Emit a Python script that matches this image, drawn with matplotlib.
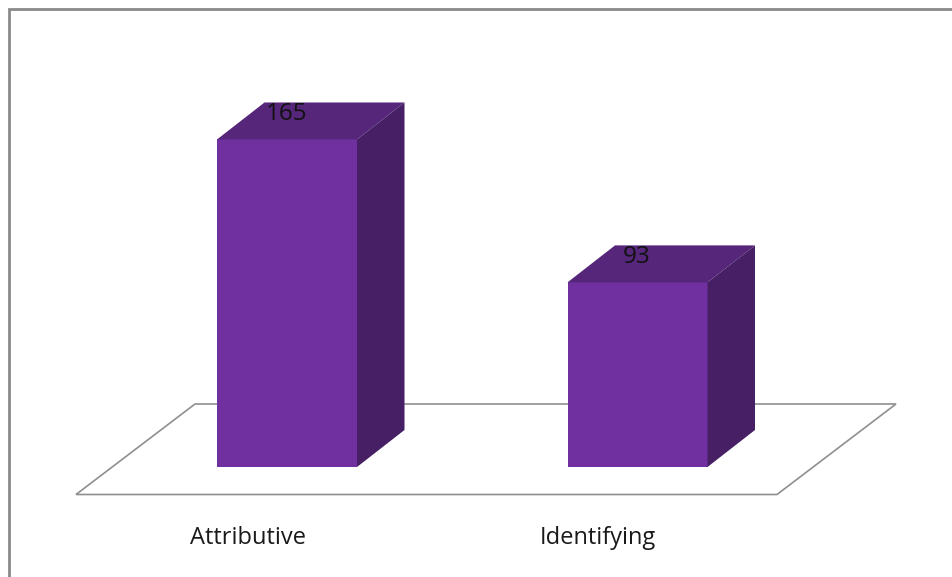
import matplotlib
matplotlib.use("Agg")
import matplotlib.pyplot as plt
from matplotlib.patches import Polygon

categories = ["Attributive", "Identifying"]
values = [165, 93]

W, H = 953, 577
FRONT, TOP, SIDE = "#7030a0", "#55267a", "#461f65"
GRID = "#8f8f8f"

# Scale: one category step is 350.5 px, one count is 1.985 px
X_STEP, Y_STEP = 350.5, 1.985
X0_PX, Y0_PX = 287.0, 467.0

fig = plt.figure(figsize=(W / 100, H / 100), dpi=100)
ax = fig.add_axes([0, 0, 1, 1])
ax.set_xlim(-X0_PX / X_STEP, (W - X0_PX) / X_STEP)
ax.set_ylim(-(H - Y0_PX) / Y_STEP, Y0_PX / Y_STEP)
ax.axis("off")

bar_w = 140 / X_STEP
dx, dy = 47.5 / X_STEP, 37 / Y_STEP


def px(x, y):
    """Convert figure pixels (origin top left) to data coordinates."""
    return (x - X0_PX) / X_STEP, (Y0_PX - y) / Y_STEP


# Chart frame: only the top and left edges are visible
ax.plot(*zip(px(8.5, 577), px(8.5, 9.3), px(953, 9.3)), color="#8a8a8a", lw=2.0,
        solid_joinstyle="miter", zorder=1)

# Floor of the 3D plot area
floor = [px(76, 494.5), px(195, 404), px(896, 404), px(777, 494.5)]
ax.add_patch(Polygon(floor, closed=True, fc="white", ec=GRID, lw=1.2, zorder=2))

for i, (name, v) in enumerate(zip(categories, values)):
    l, r = i - bar_w / 2, i + bar_w / 2
    ax.add_patch(Polygon([(l, 0), (r, 0), (r, v), (l, v)], fc=FRONT, ec="none", zorder=3))
    ax.add_patch(Polygon([(l, v), (r, v), (r + dx, v + dy), (l + dx, v + dy)],
                         fc=TOP, ec="none", zorder=3))
    ax.add_patch(Polygon([(r, 0), (r + dx, dy), (r + dx, v + dy), (r, v)],
                         fc=SIDE, ec="none", zorder=3))
    ax.text(i - 0.002, v + 25.5 / Y_STEP, str(v), ha="center", va="center", color="#111111",
            fontsize=17.5, family="Open Sans", zorder=4)
    # Category labels sit under the floor band, offset left of the bar fronts
    ax.text(i - 39.5 / X_STEP, -71.5 / Y_STEP, name, ha="center", va="center", color="#1a1a1a",
            fontsize=17, family="Open Sans", zorder=4)

fig.savefig("out.png", dpi=100, facecolor="white")
